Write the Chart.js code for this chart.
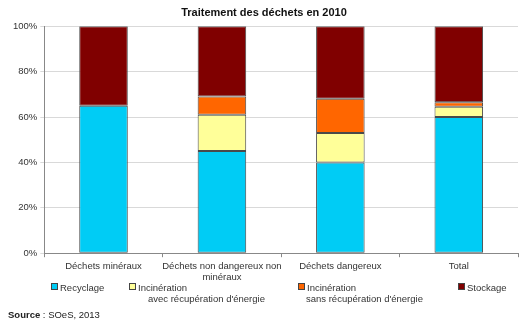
<!DOCTYPE html>
<html>
<head>
<meta charset="utf-8">
<script src="https://cdn.jsdelivr.net/npm/chart.js@4"></script>
<style>
  html, body { margin: 0; padding: 0; background: #fff; }
  #wrap { position: relative; width: 527px; height: 328px; font-family: 'Liberation Sans', Arial, sans-serif; color: #333; }
  canvas { position: absolute; left: 0; top: 0; }
  .lg { position: absolute; font-size: 9.5px; line-height: 11px; white-space: nowrap; }
  .sw { display: inline-block; width: 5px; height: 5px; border: 1px solid #444; margin-right: 2px; vertical-align: 1px; }
  .src { position: absolute; left: 8px; top: 309px; font-size: 9.5px; color: #222; }
</style>
</head>
<body>
<div id="wrap">
  <canvas id="chart" width="527" height="328"></canvas>
  <div id="legend"></div>
  <div class="src"><b>Source</b> : SOeS, 2013</div>
</div>
<script>
/* ─── Data ─────────────────────────────────────── */
const categories = [
  'Déchets minéraux',
  ['Déchets non dangereux non', 'minéraux'],
  'Déchets dangereux',
  'Total'
];
const recyclage     = [65, 45, 40, 60];
const incinAvec     = [0, 16, 13, 4.5];
const incinSans     = [0, 8, 15, 2];
const stockage      = [35, 31, 32, 33.5];
const yTicks        = [0, 20, 40, 60, 80, 100];

const seriesNames  = ['Recyclage', ['Incinération', 'avec récupération d\'énergie'], ['Incinération', 'sans récupération d\'énergie'], 'Stockage'];
const seriesColors = ['#00CCF5', '#FFFF99', '#FF6600', '#800000'];

/* ─── Chart ────────────────────────────────────── */
const seriesData = [recyclage, incinAvec, incinSans, stockage];

new Chart(document.getElementById('chart'), {
  type: 'bar',
  data: {
    labels: categories,
    datasets: seriesData.map((d, i) => ({
      label:           Array.isArray(seriesNames[i]) ? seriesNames[i].join(' ') : seriesNames[i],
      data:            d,
      backgroundColor: seriesColors[i],
      borderColor:     '#4a4a4a',
      borderWidth:     1,
      borderSkipped:   false,
      barPercentage:   0.41,
      categoryPercentage: 1
    }))
  },
  options: {
    responsive: false,
    animation:  false,
    layout: { padding: { left: 10, right: 9, top: 0, bottom: 42 } },
    plugins: {
      legend:  { display: false },
      tooltip: { enabled: false },
      title: {
        display: true,
        text:    'Traitement des déchets en 2010',
        color:   '#111',
        font:    { family: "'Liberation Sans', Arial, sans-serif", size: 11, weight: 'bold' },
        padding: { top: 6, bottom: 7 }
      }
    },
    scales: {
      x: {
        stacked: true,
        grid:   { drawOnChartArea: false, drawTicks: true, tickLength: 4, color: '#888', offset: true },
        border: { color: '#888' },
        ticks:  { color: '#333', font: { family: "'Liberation Sans', Arial, sans-serif", size: 9.5 }, padding: 3, maxRotation: 0, autoSkip: false }
      },
      y: {
        stacked: true,
        min: 0, max: 100,
        afterBuildTicks: axis => { axis.ticks = yTicks.map(v => ({ value: v })); },
        grid:   { color: '#d9d9d9', tickLength: 4, drawTicks: true },
        border: { color: '#888' },
        ticks:  { color: '#333', font: { family: "'Liberation Sans', Arial, sans-serif", size: 9.5 }, padding: 3, callback: v => v + '%' }
      }
    }
  }
});

/* ─── Custom legend (multi-line labels) ────────── */
const legendPos = [[51, 282], [129, 282], [298, 282], [458, 282]];
const legend = document.getElementById('legend');
seriesNames.forEach((name, i) => {
  const lines = Array.isArray(name) ? name : [name];
  const el = document.createElement('div');
  el.className = 'lg';
  el.style.left = legendPos[i][0] + 'px';
  el.style.top  = legendPos[i][1] + 'px';
  el.innerHTML = `<span class="sw" style="background:${seriesColors[i]}"></span>${lines[0]}` +
    (lines[1] ? `<br><span style="padding-left:${i === 1 ? 19 : 8}px">${lines[1]}</span>` : '');
  legend.appendChild(el);
});
</script>
</body>
</html>
